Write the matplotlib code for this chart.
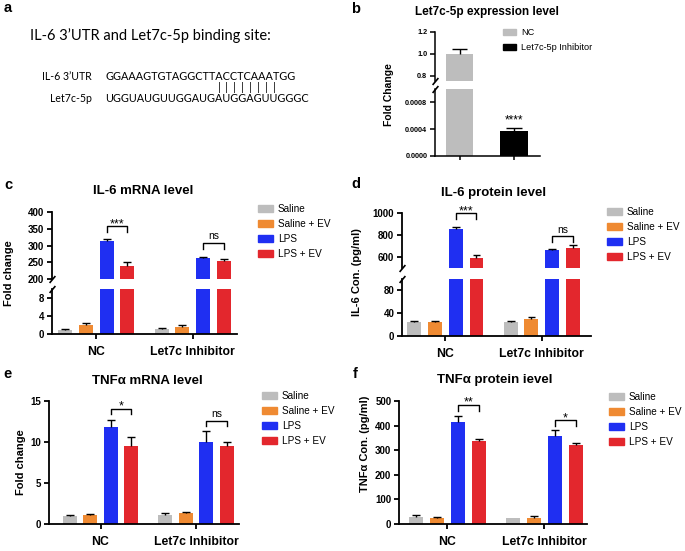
import numpy as np
import matplotlib.pyplot as plt
from matplotlib.patches import Patch
from matplotlib.font_manager import FontProperties

W, H = 685, 551
plt.rcParams['font.family'] = ['Liberation Sans', 'DejaVu Sans']
plt.rcParams['font.weight'] = 'bold'

# ---- data ----
utr_seq = 'GGAAAGTGTAGGCTTACCTCAAATGG'
mir_seq = 'UGGUAUGUUGGAUGAUGGAGUUGGGC'
pair_idx = [14, 15, 16, 17, 18, 19, 20, 21]

b_names = ['NC', 'Let7c-5p Inhibitor']
b_vals = [1.0, 0.00038]
b_err = [0.045, 0.00004]
b_colors = ['#bdbdbd', '#000000']

groups = ['NC', 'Let7c Inhibitor']
treat = ['Saline', 'Saline + EV', 'LPS', 'LPS + EV']
colors = ['#bdbdbd', '#ef8a32', '#1f2ff2', '#e3272d']

# IL-6 mRNA (rows: NC, Let7c inhibitor)
c_vals = [[1.0, 2.0, 313, 240], [1.2, 1.6, 263, 253]]
c_err = [[0.2, 0.4, 6, 12], [0.15, 0.3, 3, 7]]
c_sig = ['***', 'ns']
c_sig_y = [357, 308]

# IL-6 protein
d_vals = [[24.5, 24.5, 857, 588], [25, 30, 660, 680]]
d_err = [[1.5, 1.5, 18, 33], [1.5, 3, 9, 30]]
d_sig = ['***', 'ns']
d_sig_y = [1000, 791]

# TNFa mRNA
e_vals = [[0.98, 1.1, 11.83, 9.47], [1.14, 1.34, 10.0, 9.55]]
e_err = [[0.12, 0.08, 0.87, 1.18], [0.16, 0.16, 1.4, 0.49]]
e_sig = ['*', 'ns']
e_sig_y = [14.07, 12.6]

# TNFa protein
f_vals = [[28.5, 24, 415, 336], [24, 24, 356, 320]]
f_err = [[6.5, 6, 23, 8], [0, 8, 25, 8]]
f_sig = ['**', '*']
f_sig_y = [485, 421]


def rect(l, t, r, b):
    return [l / W, 1 - b / H, (r - l) / W, (b - t) / H]

def fx(x):
    return x / W

def fy(y):
    return 1 - y / H


fig = plt.figure(figsize=(6.85, 5.51), dpi=100)

step, bw = 0.215, 0.145


def style(ax, lw=1.3, ls=7):
    for s in ['top', 'right']:
        ax.spines[s].set_visible(False)
    ax.spines['left'].set_linewidth(lw)
    ax.spines['bottom'].set_linewidth(lw)
    ax.tick_params(width=lw, length=3.5, labelsize=ls, pad=2)


def draw_bars(ax, vals, err):
    for g in range(2):
        for t in range(4):
            x = g + (t - 1.5) * step
            ax.bar(x, vals[g][t], bw, color=colors[t], zorder=2)
            top = vals[g][t] + err[g][t]
            if err[g][t] > 0:
                ax.vlines(x, vals[g][t], top, color='k', lw=1, zorder=3)
                ax.hlines(top, x - bw * 0.28, x + bw * 0.28, color='k', lw=1, zorder=3)


def brackets(ax, sig, sig_y, drop):
    for g in range(2):
        x1 = g + 0.5 * step
        x2 = g + 1.5 * step
        y = sig_y[g]
        ax.plot([x1, x1, x2, x2], [y - drop, y, y, y - drop], color='k', lw=1, clip_on=False)
        if sig[g] == 'ns':
            ax.annotate(sig[g], xy=((x1 + x2) / 2, y), xytext=(0, 1), textcoords='offset points',
                        ha='center', va='bottom', fontsize=7.5, fontweight='normal',
                        annotation_clip=False)
        else:
            ax.annotate(sig[g], xy=((x1 + x2) / 2, y), xytext=(0, -3), textcoords='offset points',
                        ha='center', va='bottom', fontsize=9, fontweight='normal',
                        annotation_clip=False)


def break_mark(ax, y):
    ax.plot([0], [y], transform=ax.transAxes, marker=[(-1, -1.2), (1, 1.2)], markersize=5,
            color='k', mew=1.2, clip_on=False)


def legend(ax, x, y, names, cols, size=7.2, sp=0.5):
    handles = [Patch(color=c, label=n) for n, c in zip(names, cols)]
    ax.legend(handles=handles, loc='upper left', bbox_to_anchor=(fx(x), fy(y)),
              bbox_transform=fig.transFigure, frameon=False, borderpad=0, borderaxespad=0,
              handlelength=1.45, handleheight=0.7, handletextpad=0.55, labelspacing=sp,
              prop={'size': size, 'weight': 'normal'})


def group_xaxis(ax, xl):
    ax.set_xlim(*xl)
    ax.set_xticks([0, 1])
    ax.set_xticklabels(groups, fontsize=8.8, fontweight='bold')
    ax.tick_params(axis='x', pad=5)


def broken_panel(top_rect, bot_rect, vals, err, top_lim, top_ticks, bot_lim, bot_ticks, xl,
                 sig, sig_y, drop):
    axt = fig.add_axes(rect(*top_rect))
    axb = fig.add_axes(rect(*bot_rect))
    for ax in (axt, axb):
        draw_bars(ax, vals, err)
        style(ax)
        ax.set_xlim(*xl)
    axt.set_ylim(*top_lim)
    axt.set_yticks(top_ticks)
    axt.spines['bottom'].set_visible(False)
    axt.tick_params(axis='x', bottom=False, labelbottom=False)
    axb.set_ylim(*bot_lim)
    axb.set_yticks(bot_ticks)
    group_xaxis(axb, xl)
    break_mark(axt, 0)
    break_mark(axb, 1)
    brackets(axt, sig, sig_y, drop)
    return axt, axb


def simple_panel(r, vals, err, lim, ticks, xl, sig, sig_y, drop):
    ax = fig.add_axes(rect(*r))
    draw_bars(ax, vals, err)
    style(ax)
    ax.set_ylim(*lim)
    ax.set_yticks(ticks)
    group_xaxis(ax, xl)
    brackets(ax, sig, sig_y, drop)
    return ax


# ---- panel a ----
afont = 'Lato'
fig.text(fx(30), fy(36), 'IL-6 3\u2019UTR and Let7c-5p binding site:', fontsize=10.5,
         fontfamily=afont, fontweight='normal', va='center', ha='left')
sfs = 7.8
fig.text(fx(92), fy(77), 'IL-6 3\u2019UTR', fontsize=7.6, fontfamily=afont, fontweight='normal',
         va='center', ha='right')
fig.text(fx(92), fy(99), 'Let7c-5p', fontsize=7.6, fontfamily=afont, fontweight='normal',
         va='center', ha='right')
fig.text(fx(105), fy(77), utr_seq, fontsize=sfs, fontfamily=afont, fontweight='normal',
         va='center', ha='left')
fig.text(fx(105), fy(99), mir_seq, fontsize=sfs, fontfamily=afont, fontweight='normal',
         va='center', ha='left')
rend = fig.canvas.get_renderer()
fp = FontProperties(family=afont, size=sfs)
for i in pair_idx:
    w0 = rend.get_text_width_height_descent(mir_seq[:i], fp, False)[0]
    w1 = rend.get_text_width_height_descent(mir_seq[:i + 1], fp, False)[0]
    xc = 105 + (w0 + w1) / 2
    fig.text(fx(xc), fy(87.5), '|', fontsize=8, fontfamily=afont, fontweight='normal',
             va='center', ha='center')

# ---- panel b ----
bt = fig.add_axes(rect(435, 32, 540, 81))
bb = fig.add_axes(rect(435, 89, 540, 156))
for ax in (bt, bb):
    for i in range(2):
        ax.bar(i, b_vals[i], 0.5, color=b_colors[i], zorder=2)
        top = b_vals[i] + b_err[i]
        ax.vlines(i, b_vals[i], top, color='k', lw=1, zorder=3)
        ax.hlines(top, i - 0.14, i + 0.14, color='k', lw=1, zorder=3)
    style(ax, lw=1.1, ls=5.2)
    ax.set_xlim(-0.46, 1.48)
bt.set_ylim(0.75, 1.2)
bt.set_yticks([0.8, 1.0, 1.2])
bt.set_yticklabels(['0.8', '1.0', '1.2'])
bt.spines['bottom'].set_visible(False)
bt.tick_params(axis='x', bottom=False, labelbottom=False)
bb.set_ylim(0, 0.001)
bb.set_yticks([0, 0.0004, 0.0008])
bb.set_yticklabels(['0.0000', '0.0004', '0.0008'])
bb.set_xticks([0, 1])
bb.set_xticklabels([])
bb.tick_params(axis='x', length=3)
break_mark(bt, 0)
break_mark(bb, 1)
bb.annotate('****', xy=(1, b_vals[1] + b_err[1]), xytext=(0, 1), textcoords='offset points',
            ha='center', va='bottom', fontsize=8.5, fontweight='normal')
legend(bt, 503, 28, b_names, b_colors, size=6.6, sp=0.7)
fig.text(fx(487), fy(12), 'Let7c-5p expression level', fontsize=8.5, ha='center', va='center')
fig.text(fx(389), fy(95), 'Fold Change', fontsize=7.5, rotation=90, ha='center', va='center')

# ---- panel c ----
ct, cb = broken_panel((52, 212, 237, 279), (52, 289, 237, 334), c_vals, c_err,
                      (200, 400), [200, 250, 300, 350, 400], (0, 10), [0, 4, 8],
                      (-0.46, 1.46), c_sig, c_sig_y, 17)
legend(ct, 258, 204, treat, colors)
fig.text(fx(143), fy(191), 'IL-6 mRNA level', fontsize=9.5, ha='center', va='center')
fig.text(fx(9), fy(273), 'Fold change', fontsize=8, rotation=90, ha='center', va='center')

# ---- panel d ----
dt, db = broken_panel((402, 213, 591, 268), (402, 279, 591, 336), d_vals, d_err,
                      (500, 1000), [600, 800, 1000], (0, 100), [0, 40, 80],
                      (-0.45, 1.51), d_sig, d_sig_y, 55)
legend(dt, 607, 207, treat, colors)
fig.text(fx(494), fy(193), 'IL-6 protein level', fontsize=9.5, ha='center', va='center')
fig.text(fx(357), fy(272), 'IL-6 Con. (pg/ml)', fontsize=8, rotation=90, ha='center', va='center')

# ---- panel e ----
ea = simple_panel((49, 401, 239, 524), e_vals, e_err, (0, 15), [0, 5, 10, 15],
                  (-0.54, 1.45), e_sig, e_sig_y, 0.65)
legend(ea, 262, 391, treat, colors)
fig.text(fx(147), fy(381), 'TNF\u03b1 mRNA level', fontsize=9.5, ha='center', va='center')
fig.text(fx(21), fy(462), 'Fold change', fontsize=8, rotation=90, ha='center', va='center')

# ---- panel f ----
fa = simple_panel((399, 401, 587, 524), f_vals, f_err, (0, 500), [0, 100, 200, 300, 400, 500],
                  (-0.50, 1.44), f_sig, f_sig_y, 24)
legend(fa, 609, 392, treat, colors)
fig.text(fx(495), fy(380), 'TNF\u03b1 protein ievel', fontsize=9.5, ha='center', va='center')
fig.text(fx(365), fy(444), 'TNF\u03b1 Con. (pg/ml)', fontsize=8, rotation=90, ha='center', va='center')

# panel letters
for lab, x, y in [('a', 8, 8), ('b', 356, 9), ('c', 8, 185), ('d', 356, 184), ('e', 7, 374), ('f', 355, 374)]:
    fig.text(fx(x), fy(y), lab, fontsize=10.5, ha='center', va='center')

fig.savefig('out.png', dpi=100)
